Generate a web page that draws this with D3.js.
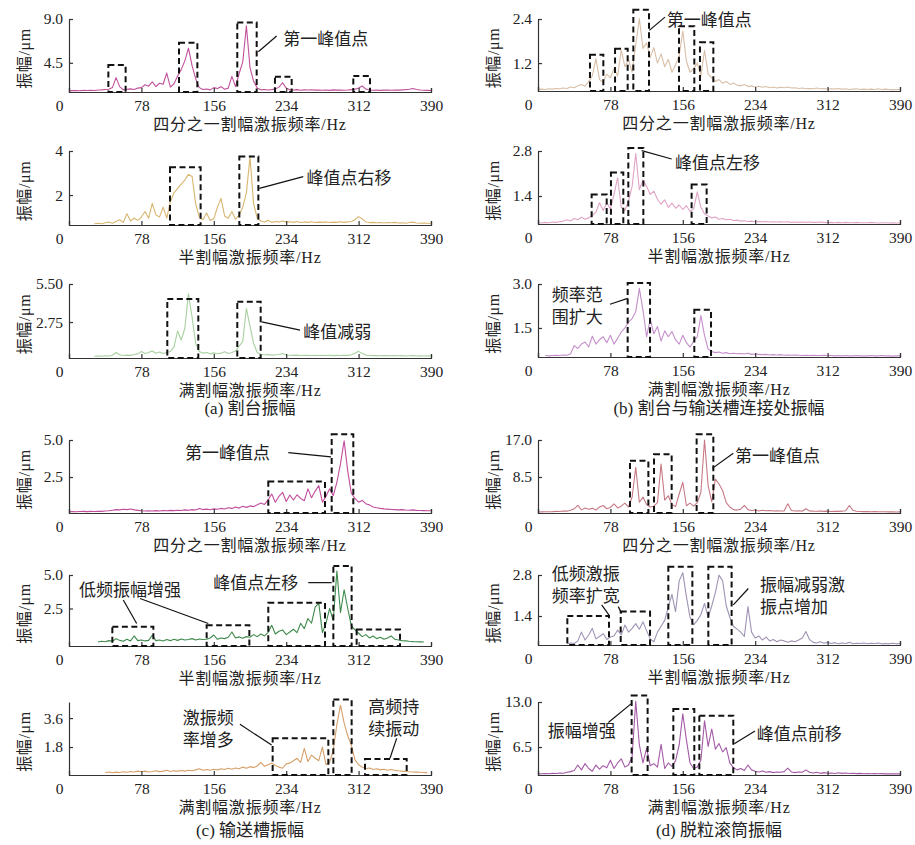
<!DOCTYPE html>
<html>
<head>
<meta charset="utf-8">
<script src="https://cdn.jsdelivr.net/npm/d3@7"></script>
<style>
  body { margin: 0; background: #fff; }
  .cjk { font-family: "Noto Sans CJK SC", sans-serif; }
  .ser { font-family: "Liberation Serif", "Times New Roman", serif; }
</style>
</head>
<body>
<div id="vis"></div>
<script>
// 频率轴: 0 ~ 390 Hz, 每点间隔 3.9 Hz (101 点)
const freqStep = 3.9;
const xTicks = [0, 78, 156, 234, 312, 390];

// (a) 割台振幅
const ampA1 = [1.62,1.64,1.66,1.63,1.67,1.65,1.68,1.66,1.70,1.72,1.75,
  1.78,1.95,2.98,2.05,1.72,1.78,1.82,1.75,1.90,1.95,
  2.25,2.10,2.55,2.05,2.40,2.30,3.45,2.00,2.35,3.15,
  3.80,4.70,6.00,4.20,2.85,1.95,1.75,1.80,1.72,1.95,
  1.85,2.05,1.78,1.90,3.10,2.05,3.40,4.60,8.30,4.00,
  2.60,1.90,1.72,1.76,1.70,1.74,1.80,2.00,2.45,1.90,
  1.72,1.70,1.74,1.68,1.72,1.70,1.73,1.69,1.71,1.68,
  1.70,1.67,1.72,1.69,1.71,1.68,1.70,1.74,1.78,1.92,
  2.12,1.80,1.70,1.68,1.70,1.67,1.69,1.71,1.68,1.70,
  1.69,1.72,1.74,1.78,1.86,1.75,1.70,1.68,1.67,1.66];
const ampA2 = [null,null,null,null,null,null,null,0.70,0.72,0.70,0.74,
  0.78,0.72,0.80,0.88,0.76,1.15,0.82,0.95,0.85,1.00,
  1.25,0.95,1.62,1.10,1.00,1.45,0.95,1.70,2.10,2.30,
  2.50,2.68,2.94,2.84,1.60,1.00,0.88,1.18,0.85,0.92,
  1.45,1.85,1.05,0.95,1.25,0.90,1.10,1.45,2.10,3.73,
  1.60,0.95,0.82,0.78,0.85,0.76,0.80,0.78,0.82,0.77,
  0.79,0.76,0.80,0.75,0.78,0.76,0.79,0.75,0.77,0.76,
  0.78,0.75,0.77,0.76,0.79,0.76,0.78,0.80,0.88,1.02,
  0.92,0.78,0.75,0.76,0.74,0.75,0.73,0.75,0.74,0.76,
  0.73,0.74,0.72,0.75,0.77,0.73,0.72,0.73,0.72,0.72];
const ampA3 = [null,null,null,null,null,null,null,0.28,0.30,0.28,0.31,
  0.30,0.35,0.55,0.38,0.33,0.36,0.34,0.40,0.45,0.62,
  0.48,0.55,0.66,0.50,0.58,0.48,0.55,0.62,0.95,2.10,
  1.45,2.30,4.80,3.10,1.20,0.62,0.50,0.55,0.45,0.52,
  0.46,0.50,0.60,0.48,0.55,0.65,1.00,1.35,3.73,2.45,
  1.20,0.55,0.42,0.38,0.40,0.36,0.38,0.40,0.48,0.37,
  0.35,0.34,0.36,0.33,0.35,0.34,0.33,0.35,0.33,0.34,
  0.33,0.34,0.32,0.34,0.33,0.35,0.34,0.38,0.50,0.63,
  0.48,0.36,0.33,0.32,0.33,0.31,0.32,0.33,0.31,0.32,
  0.31,0.32,0.30,0.31,0.32,0.30,0.31,0.30,0.31,0.30];

// (b) 割台与输送槽连接处振幅
const ampB1 = [0.48,0.49,0.48,0.50,0.49,0.51,0.50,0.52,0.51,0.55,0.53,
  0.58,0.62,0.57,0.70,0.85,1.32,0.75,0.68,0.90,0.80,
  1.05,0.85,1.55,1.10,1.30,0.95,1.70,2.41,1.60,1.75,
  1.35,1.62,1.20,1.45,1.10,1.30,0.95,1.15,1.40,2.07,
  1.25,0.95,1.05,1.20,0.85,1.55,0.90,0.80,0.70,0.75,
  0.65,0.70,0.62,0.66,0.60,0.58,0.62,0.56,0.58,0.55,
  0.57,0.54,0.56,0.53,0.55,0.52,0.54,0.53,0.55,0.52,
  0.53,0.51,0.52,0.50,0.51,0.50,0.52,0.50,0.51,0.49,
  0.50,0.49,0.51,0.49,0.50,0.48,0.49,0.50,0.48,0.49,
  0.48,0.49,0.48,0.50,0.48,0.49,0.48,0.47,0.48,0.48];
const ampB2 = [0.57,0.56,0.58,0.57,0.59,0.58,0.60,0.62,0.66,0.63,0.70,
  0.66,0.74,0.68,0.72,0.80,0.90,1.19,0.95,1.19,1.00,
  1.45,1.97,1.05,0.95,1.24,1.70,2.72,1.60,1.90,1.70,
  1.45,1.55,1.30,1.15,1.28,1.05,1.18,1.02,1.12,0.98,
  1.10,0.92,1.00,1.53,1.05,0.85,0.78,0.72,0.75,0.68,
  0.70,0.66,0.68,0.64,0.65,0.62,0.63,0.61,0.62,0.60,
  0.61,0.60,0.61,0.59,0.60,0.59,0.60,0.59,0.60,0.58,
  0.59,0.58,0.59,0.58,0.59,0.58,0.58,0.59,0.58,0.57,
  0.58,0.57,0.58,0.57,0.58,0.57,0.57,0.58,0.57,0.57,
  0.57,0.58,0.57,0.56,0.57,0.57,0.56,0.57,0.56,0.56];
const ampB3 = [null,null,0.56,0.55,0.56,0.57,0.56,0.58,0.57,0.62,0.90,
  0.80,0.95,1.02,0.85,1.22,0.95,1.10,1.20,1.00,1.25,
  0.95,1.15,1.36,1.50,1.70,1.82,2.05,2.85,2.10,1.20,
  1.80,1.30,1.55,1.05,1.40,1.20,1.38,1.10,0.95,1.25,
  1.00,0.85,1.05,1.20,1.92,1.25,0.78,0.70,0.66,0.68,
  0.64,0.66,0.62,0.64,0.62,0.63,0.61,0.64,0.60,0.61,
  0.60,0.59,0.60,0.58,0.59,0.58,0.59,0.57,0.58,0.57,
  0.58,0.57,0.56,0.57,0.56,0.57,0.56,0.56,0.57,0.56,
  0.56,0.55,0.56,0.55,0.56,0.55,0.55,0.56,0.55,0.55,
  0.55,0.56,0.55,0.55,0.56,0.55,0.55,0.54,0.55,0.55];

// (c) 输送槽振幅
const ampC1 = [0.15,0.16,0.15,0.17,0.18,0.16,0.18,0.17,0.19,0.18,0.20,
  0.22,0.26,0.30,0.28,0.32,0.30,0.34,0.28,0.25,0.22,
  0.20,0.22,0.20,0.23,0.21,0.24,0.22,0.25,0.23,0.26,
  0.24,0.28,0.25,0.30,0.27,0.38,0.30,0.33,0.29,0.35,
  0.32,0.38,0.34,0.42,0.38,0.48,0.40,0.52,0.45,0.55,
  0.50,0.62,0.75,0.65,0.95,1.35,0.80,1.20,1.47,0.85,
  1.28,0.95,1.30,1.05,0.90,1.70,1.10,1.55,1.92,0.80,
  1.20,1.70,1.25,2.14,3.40,4.95,2.90,1.40,1.05,0.80,
  0.92,0.70,0.62,0.48,0.42,0.38,0.35,0.33,0.31,0.30,
  0.28,0.30,0.27,0.26,0.28,0.25,0.24,0.23,0.22,0.22];
const ampC2 = [null,null,null,null,null,null,null,null,0.00,0.05,0.02,
  0.10,0.05,0.25,0.12,0.05,0.20,0.08,0.45,0.10,0.15,
  0.08,0.12,0.50,0.10,0.15,0.08,0.18,0.10,0.20,0.12,
  0.22,0.15,0.18,0.25,0.15,0.22,0.18,0.20,0.30,0.52,
  0.20,0.30,0.25,0.35,0.75,0.30,0.38,0.28,0.40,0.35,
  0.55,0.40,0.60,0.45,0.70,1.25,0.60,0.80,0.90,0.55,
  0.75,0.95,0.70,1.40,1.00,1.75,1.40,2.60,2.90,0.70,
  1.40,2.50,1.60,5.30,2.20,3.90,2.50,1.20,0.90,0.65,
  0.40,0.55,0.30,0.45,0.25,0.35,0.20,0.30,0.45,0.20,
  0.15,0.10,0.08,0.05,0.03,0.02,0.01,0.00,null,null];
const ampC3 = [null,null,null,null,null,null,null,null,null,null,0.22,
  0.25,0.20,0.24,0.22,0.26,0.23,0.28,0.25,0.30,0.26,
  0.30,0.25,0.28,0.32,0.27,0.30,0.35,0.28,0.32,0.30,
  0.34,0.30,0.36,0.32,0.38,0.45,0.35,0.40,0.36,0.42,
  0.38,0.45,0.40,0.48,0.42,0.50,0.45,0.55,0.48,0.58,
  0.52,0.62,0.85,0.60,0.70,0.80,0.65,0.55,0.48,0.75,
  0.80,0.95,1.10,0.85,1.72,0.90,1.30,1.10,0.95,1.80,
  0.70,0.85,1.60,3.20,4.40,3.30,2.50,1.90,1.00,0.70,
  0.55,0.45,0.50,0.40,0.45,0.38,0.42,0.36,0.40,0.35,
  0.32,0.30,0.28,0.26,0.25,0.24,0.23,0.22,0.21,null];

// (d) 脱粒滚筒振幅
const ampD1 = [0.45,0.48,0.50,0.52,0.55,0.60,0.58,0.70,0.65,0.85,1.20,
  1.98,0.95,1.40,1.10,1.30,0.90,1.60,1.95,1.20,1.50,
  2.35,1.40,1.80,2.50,1.60,3.90,10.7,2.70,3.90,2.20,
  1.60,1.80,2.60,11.5,3.20,4.20,2.10,1.70,4.60,7.30,
  1.90,2.50,1.80,2.60,5.00,17.0,6.50,2.80,8.00,6.90,
  5.40,2.60,1.60,1.00,0.90,1.10,2.00,1.00,0.80,0.90,
  0.70,0.85,0.75,0.80,0.70,0.75,0.68,0.72,2.35,0.80,
  0.70,0.75,0.65,1.20,0.70,0.65,0.62,0.70,0.60,0.65,
  0.58,0.62,0.60,0.65,0.75,1.95,0.85,0.62,0.58,0.55,
  0.55,0.52,0.54,0.50,0.52,0.50,0.48,0.50,0.47,0.48];
const ampD2 = [null,null,null,null,null,null,null,null,0.45,0.48,0.46,
  0.55,0.85,0.58,0.75,0.98,0.62,0.70,0.80,0.60,0.68,
  0.72,0.92,0.75,1.09,0.85,0.98,1.14,0.95,1.20,0.90,
  0.62,0.52,0.85,1.05,1.25,1.70,2.14,1.55,2.60,2.88,
  2.06,1.35,1.10,1.25,1.45,1.83,1.35,1.75,2.20,2.80,
  2.60,1.75,1.35,1.05,0.95,0.85,0.70,1.72,0.85,0.65,
  0.72,0.58,0.68,0.55,0.60,0.52,0.58,0.55,0.50,0.55,
  0.52,0.58,0.65,0.87,0.60,0.50,0.48,0.52,0.47,0.50,
  0.46,0.49,0.45,0.48,0.46,0.50,0.45,0.47,0.46,0.48,
  0.45,0.47,0.46,0.48,0.45,0.46,0.45,0.47,0.45,0.46];
const ampD3 = [2.62,2.64,2.66,2.65,2.70,2.68,2.75,2.72,2.85,2.95,3.10,
  3.90,3.20,4.10,3.40,3.00,3.90,3.30,3.80,3.50,4.60,
  3.40,4.20,4.80,3.60,3.90,5.10,13.1,6.80,4.20,6.30,
  3.80,4.10,3.60,6.90,3.40,4.20,3.70,4.50,6.80,11.3,
  7.50,4.20,3.40,3.60,4.60,10.3,6.60,9.10,6.20,7.00,
  5.80,6.40,4.20,3.50,3.20,3.40,3.10,3.90,3.20,3.00,
  2.90,3.05,2.85,2.95,2.80,2.90,2.85,2.95,3.45,2.90,
  2.80,2.90,2.85,3.20,2.85,2.75,2.85,2.70,2.80,2.72,
  2.75,2.68,2.78,2.70,2.74,2.68,2.72,2.66,2.70,2.65,
  2.68,2.64,2.67,2.63,2.66,2.62,2.65,2.62,2.64,2.62];

// 虚线框: [起始频率, 终止频率, 上沿幅值]
const boxesA1 = [[42.4,61.0,4.27],[118.5,138.3,6.56],[181.3,202.2,8.65],[221.9,239.9,3.07],[306.3,324.3,3.14]];
const boxesA2 = [[108.8,141.8,3.26],[183.5,204.0,3.75]];
const boxesA3 = [[105.9,139.3,4.41],[181.3,206.5,4.22]];
const boxesB1 = [[56.0,70.4,1.43],[83.0,96.6,1.59],[102.7,119.6,2.65],[151.9,168.4,2.20],[174.5,188.9,1.77]];
const boxesB2 = [[57.8,74.0,1.45],[78.6,91.9,2.13],[97.3,113.5,2.89],[165.5,181.7,1.76]];
const boxesB3 = [[96.6,120.7,3.03],[168.4,186.4,2.12]];
const boxesC1 = [[214.7,275.8,2.19],[283.0,306.3,5.38]];
const boxesC2 = [[46.7,90.9,1.13],[148.3,194.3,1.25],[214.7,275.8,2.93],[284.8,304.5,5.68],[309.9,356.6,0.93]];
const boxesC3 = [[219.4,279.4,2.34],[284.8,304.5,4.76],[318.9,363.8,1.05]];
const boxesD1 = [[99.1,118.9,12.22],[125.0,144.0,13.74],[170.9,188.9,18.3]];
const boxesD2 = [[31.6,76.5,1.40],[89.1,120.7,1.55],[140.4,166.3,3.08],[183.5,208.6,3.08]];
const boxesD3 = [[100.9,118.1,13.95],[145.8,168.4,12.0],[173.8,210.4,11.02]];

const titleQ = "四分之一割幅激振频率";
const titleH = "半割幅激振频率";
const titleF = "满割幅激振频率";

const panels = [
  { col: 0, top: 19, base: 92, yMin: 1.5, yMax: 9.0, yTicks: [4.5, 9.0], fmt: ".1f", values: ampA1, color: "#c2509c", title: titleQ, boxes: boxesA1,
    notes: [{ f: 230.9, v: 6.9, lines: ["第一峰值点"] }], leaders: [[204, 5.64, 223.7, 7.25]] },
  { col: 0, top: 151, base: 225, yMin: 0.64, yMax: 4, yTicks: [2, 4], fmt: "d", values: ampA2, color: "#d8b56e", title: titleH, boxes: boxesA2,
    notes: [{ f: 256, v: 2.76, lines: ["峰值点右移"] }], leaders: [[205, 2.3, 252.4, 2.84]] },
  { col: 0, top: 284, base: 358, yMin: 0.15, yMax: 5.5, yTicks: [2.75, 5.5], fmt: ".2f", values: ampA3, color: "#a8d0a0", title: titleF, boxes: boxesA3,
    notes: [{ f: 252.4, v: 2.04, lines: ["峰值减弱"] }], leaders: [[207.6, 2.76, 248.9, 2.16]] },
  { col: 1, top: 19, base: 91, yMin: 0.44, yMax: 2.4, yTicks: [1.2, 2.4], fmt: ".1f", values: ampB1, color: "#d9bfa8", title: titleQ, boxes: boxesB1,
    notes: [{ f: 138.6, v: 2.38, lines: ["第一峰值点"] }], leaders: [[119.9, 2.09, 136.8, 2.45]] },
  { col: 1, top: 151, base: 224, yMin: 0.53, yMax: 2.8, yTicks: [1.4, 2.8], fmt: ".1f", values: ampB2, color: "#e0a4c6", title: titleH, boxes: boxesB2,
    notes: [{ f: 147.6, v: 2.44, lines: ["峰值点左移"] }], leaders: [[111.7, 2.81, 144.0, 2.55]] },
  { col: 1, top: 284, base: 357, yMin: 0.51, yMax: 3.0, yTicks: [1.5, 3.0], fmt: ".1f", values: ampB3, color: "#c58fcb", title: titleF, boxes: boxesB3,
    notes: [{ f: 14.7, v: 2.62, lines: ["频率范", "围扩大"] }], leaders: [[77.6, 2.31, 96.6, 2.51]] },
  { col: 0, top: 440, base: 513, yMin: 0.07, yMax: 5.0, yTicks: [2.5, 5.0], fmt: ".1f", values: ampC1, color: "#c24c9c", title: titleQ, boxes: boxesC1,
    notes: [{ f: 125, v: 4.11, lines: ["第一峰值点"] }], leaders: [[236.3, 4.15, 282.3, 3.86]] },
  { col: 0, top: 575, base: 646, yMin: -0.3, yMax: 5.0, yTicks: [2.5, 5.0], fmt: ".1f", values: ampC2, color: "#3e8a4c", title: titleH, boxes: boxesC2,
    notes: [{ f: 10.8, v: 3.88, lines: ["低频振幅增强"] }, { f: 155.5, v: 4.43, lines: ["峰值点左移"] }],
    leaders: [[58.5, 3.13, 72.9, 1.38], [76.5, 3.25, 150.1, 1.38], [257.8, 4.43, 283.0, 4.43]] },
  { col: 0, top: 702, base: 775, yMin: 0.06, yMax: 4.6, yTicks: [1.8, 3.6], fmt: ".1f", values: ampC3, color: "#d6a06a", title: titleF, boxes: boxesC3,
    notes: [{ f: 122.5, v: 3.58, lines: ["激振频", "率增多"] }, { f: 322.5, v: 4.30, lines: ["高频持", "续振动"] }],
    leaders: [[184.2, 3.21, 218.3, 1.92], [353.0, 2.34, 345.8, 1.10]] },
  { col: 1, top: 440, base: 513, yMin: 0.23, yMax: 17.0, yTicks: [8.5, 17.0], fmt: ".1f", values: ampD1, color: "#c77a86", title: titleQ, boxes: boxesD1,
    notes: [{ f: 212.2, v: 13.36, lines: ["第一峰值点"] }], leaders: [[187.8, 10.48, 210.4, 13.97]] },
  { col: 1, top: 575, base: 645, yMin: 0.41, yMax: 2.8, yTicks: [1.4, 2.8], fmt: ".1f", values: ampD2, color: "#a093b4", title: titleH, boxes: boxesD2,
    notes: [{ f: 14.7, v: 2.83, lines: ["低频激振", "频率扩宽"] }, { f: 239.2, v: 2.46, lines: ["振幅减弱激", "振点增加"] }],
    leaders: [[68.6, 1.78, 76.5, 1.43], [86.5, 1.72, 90.1, 1.49], [210.4, 1.78, 226.6, 2.34]] },
  { col: 1, top: 702, base: 775, yMin: 2.46, yMax: 13.0, yTicks: [6.5, 13.0], fmt: ".1f", values: ampD3, color: "#a45aa6", title: titleF, boxes: boxesD3,
    notes: [{ f: 10.4, v: 8.82, lines: ["振幅增强"] }, { f: 235.6, v: 8.33, lines: ["峰值点前移"] }],
    leaders: [[75.8, 10.04, 100.2, 12.73], [211.5, 6.96, 233.8, 8.82]] }
];

const captions = [
  { col: 0, y: 414, tag: "(a) ", text: "割台振幅" },
  { col: 1, y: 414, tag: "(b) ", text: "割台与输送槽连接处振幅" },
  { col: 0, y: 836, tag: "(c) ", text: "输送槽振幅" },
  { col: 1, y: 836, tag: "(d) ", text: "脱粒滚筒振幅" }
];

const colX = [69, 538];
const axisW = 362;
const ink = "#222";

function drawPanel(svg, p) {
  const x0 = colX[p.col];
  const x = d3.scaleLinear().domain([0, 390]).range([x0, x0 + axisW]);
  const y = d3.scaleLinear().domain([p.yMin, p.yMax]).range([p.base, p.top]);
  const g = svg.append("g");

  // 频谱曲线
  const line = d3.line()
    .defined(d => d != null)
    .x((d, i) => x(i * freqStep))
    .y(d => y(d));
  g.append("path")
    .datum(p.values)
    .attr("d", line)
    .attr("fill", "none")
    .attr("stroke", p.color)
    .attr("stroke-width", 1.1)
    .attr("stroke-linejoin", "round");

  // 坐标轴 (刻度朝内)
  const gx = g.append("g")
    .attr("transform", `translate(0,${p.base})`)
    .call(d3.axisBottom(x).tickValues(xTicks).tickSizeInner(-4).tickSizeOuter(-4).tickPadding(8).tickFormat(d3.format("d")));
  gx.selectAll(".tick").filter(d => d === 0).select("text").attr("dx", -10);

  const gy = g.append("g")
    .attr("transform", `translate(${x0},0)`)
    .call(d3.axisLeft(y).tickValues(p.yTicks).tickSizeInner(-4).tickSizeOuter(0).tickPadding(6).tickFormat(d3.format(p.fmt)));

  [gx, gy].forEach(a => {
    a.selectAll("path, line").attr("stroke", "#333").attr("stroke-width", 1.2);
    a.selectAll("text")
      .attr("class", "ser")
      .style("font-size", "15.5px")
      .attr("fill", ink);
  });

  // 横轴标题
  const t = g.append("text")
    .attr("x", x(195))
    .attr("y", p.base + 38)
    .attr("text-anchor", "middle")
    .attr("fill", ink)
    .style("font-size", "16px")
    .style("letter-spacing", "0.8px");
  t.append("tspan").attr("class", "cjk").text(p.title);
  t.append("tspan").attr("class", "ser").text("/Hz");

  // 纵轴标题
  const yl = g.append("text")
    .attr("transform", `translate(${x0 - 45},${(p.top + p.base) / 2 + 3}) rotate(-90)`)
    .attr("text-anchor", "middle")
    .attr("dy", "0.35em")
    .attr("fill", ink)
    .style("font-size", "16px")
    .style("letter-spacing", "0.6px");
  yl.append("tspan").attr("class", "cjk").text("振幅");
  yl.append("tspan").attr("class", "ser").text("/μm");

  // 虚线框
  g.selectAll(".box")
    .data(p.boxes)
    .join("rect")
    .attr("class", "box")
    .attr("x", d => x(d[0]))
    .attr("y", d => y(d[2]))
    .attr("width", d => x(d[1]) - x(d[0]))
    .attr("height", d => y(p.yMin) - y(d[2]))
    .attr("fill", "none")
    .attr("stroke", "#111")
    .attr("stroke-width", 2)
    .attr("stroke-dasharray", "6,3.5");

  // 引线
  g.selectAll(".leader")
    .data(p.leaders)
    .join("line")
    .attr("x1", d => x(d[0]))
    .attr("y1", d => y(d[1]))
    .attr("x2", d => x(d[2]))
    .attr("y2", d => y(d[3]))
    .attr("stroke", "#111")
    .attr("stroke-width", 1.2);

  // 标注文字
  p.notes.forEach(n => {
    const txt = g.append("text")
      .attr("class", "cjk")
      .attr("fill", ink)
      .style("font-size", "17px");
    n.lines.forEach((s, k) => {
      txt.append("tspan")
        .attr("x", x(n.f))
        .attr("y", y(n.v) + k * 22)
        .attr("dy", "0.35em")
        .text(s);
    });
  });
}

function runCode() {
  const svg = d3.select("#vis")
    .append("svg")
    .attr("width", 915)
    .attr("height", 845)
    .style("background", "#fff");

  panels.forEach(p => drawPanel(svg, p));

  captions.forEach(c => {
    const cx = colX[c.col] + axisW / 2;
    const t = svg.append("text")
      .attr("x", cx)
      .attr("y", c.y)
      .attr("text-anchor", "middle")
      .attr("fill", ink)
      .style("font-size", "17px");
    t.append("tspan").attr("class", "ser").text(c.tag);
    t.append("tspan").attr("class", "cjk").text(c.text);
  });
}

runCode();
</script>
</body>
</html>
